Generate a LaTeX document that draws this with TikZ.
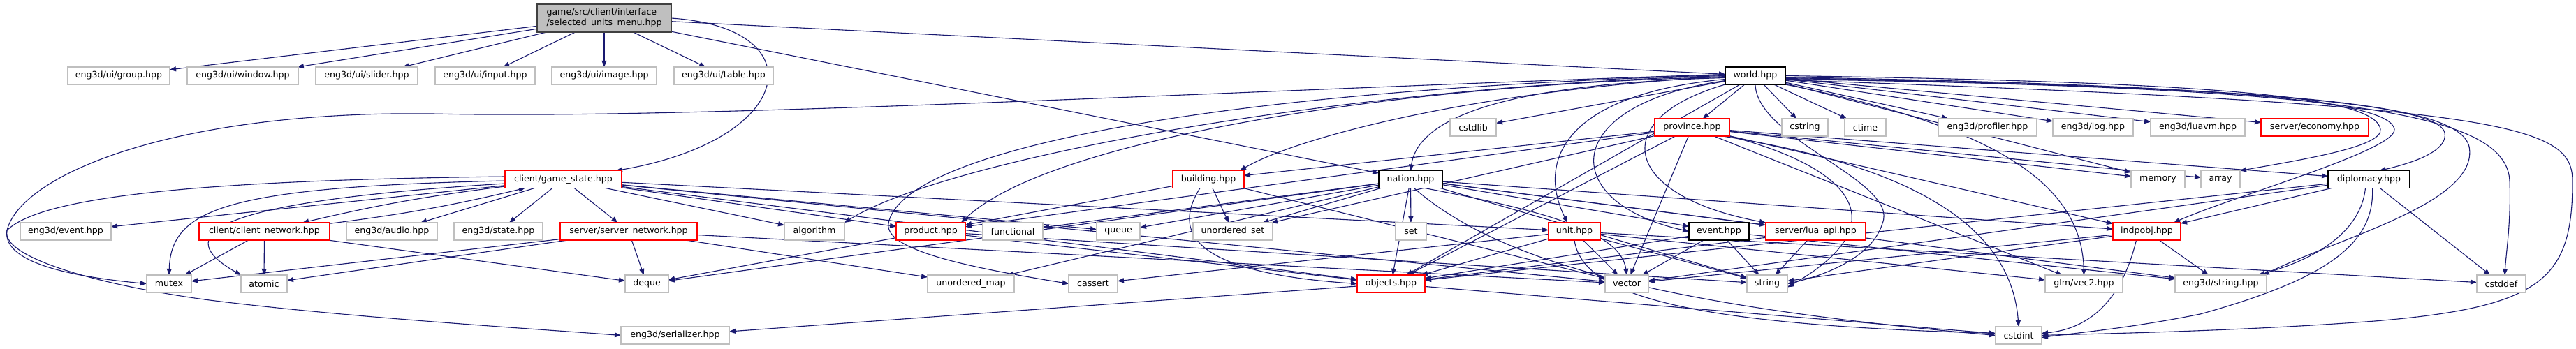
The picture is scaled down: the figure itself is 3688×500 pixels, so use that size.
\documentclass[tikz,border=0pt]{standalone}
\usepackage{fontspec}
\setmainfont{DejaVu Sans}
\usetikzlibrary{arrows.meta}
\pgfdeclarelayer{back}
\pgfdeclarelayer{edges}
\pgfsetlayers{back,edges,main}
\definecolor{edgec}{HTML}{191970}
\definecolor{grayc}{HTML}{BFBFBF}
\definecolor{rootfill}{HTML}{BFBFBF}
\definecolor{rootdraw}{HTML}{404040}
\newcommand\nodefont{\fontsize{12.6}{15}\selectfont}
\tikzset{
  e/.style={draw=edgec, line width=1.1pt, -{Triangle[length=9pt,width=7pt]}},
  nb/.style={inner sep=0pt, outer sep=0pt, minimum height=25pt, font=\nodefont, fill=white, line width=1.3pt},
  gb/.style={nb, draw=grayc},
  rb/.style={nb, draw=red},
  bb/.style={nb, draw=black},
}
\begin{document}
\begin{tikzpicture}[x=1pt,y=-1pt]
\begin{pgfonlayer}{back}
\fill[white] (0,0) rectangle (3688,500);
\end{pgfonlayer}
\useasboundingbox (0,0) rectangle (3688,500);
% root
\node[nb, draw=rootdraw, fill=rootfill, minimum width=192pt, minimum height=40pt, align=left] (r) at (865,26) {game/src/client/interface\\/selected\_units\_menu.hpp};
% row 1
\node[gb, minimum width=146pt] (grp) at (170,108.5) {eng3d/ui/group.hpp};
\node[gb, minimum width=159pt] (win) at (347.5,108.5) {eng3d/ui/window.hpp};
\node[gb, minimum width=146pt] (sld) at (525,108.5) {eng3d/ui/slider.hpp};
\node[gb, minimum width=143pt] (inp) at (694.5,108.5) {eng3d/ui/input.hpp};
\node[gb, minimum width=150pt] (img) at (865,108.5) {eng3d/ui/image.hpp};
\node[gb, minimum width=142pt] (tbl) at (1036,108.5) {eng3d/ui/table.hpp};
\node[bb, minimum width=86pt] (world) at (2513,108.5) {world.hpp};
% row 2
\node[gb, minimum width=66pt] (cstdlib) at (2109,182.5) {cstdlib};
\node[rb, minimum width=107pt] (province) at (2422.5,182.5) {province.hpp};
\node[gb, minimum width=66pt] (cstring) at (2584,182.5) {cstring};
\node[gb, minimum width=59pt] (ctime) at (2670.5,182.5) {ctime};
\node[gb, minimum width=141pt] (profiler) at (2845.5,182.5) {eng3d/profiler.hpp};
\node[gb, minimum width=115pt] (log) at (2996.5,182.5) {eng3d/log.hpp};
\node[gb, minimum width=135pt] (luavm) at (3146.5,182.5) {eng3d/luavm.hpp};
\node[rb, minimum width=154pt] (economy) at (3314,182.5) {server/economy.hpp};
% row 3
\node[rb, minimum width=167pt] (gstate) at (806.5,257) {client/game\_state.hpp};
\node[rb, minimum width=102pt] (building) at (1730,257) {building.hpp};
\node[bb, minimum width=91pt] (nation) at (2019.5,257) {nation.hpp};
\node[gb, minimum width=77pt] (memory) at (3089.5,257) {memory};
\node[gb, minimum width=56pt] (array) at (3179,257) {array};
\node[bb, minimum width=117pt] (diplomacy) at (3391.5,257) {diplomacy.hpp};
% row 4
\node[gb, minimum width=130pt] (ev3d) at (94,331.5) {eng3d/event.hpp};
\node[rb, minimum width=187pt] (cnet) at (378.5,331.5) {client/client\_network.hpp};
\node[gb, minimum width=130pt] (audio) at (561,331.5) {eng3d/audio.hpp};
\node[gb, minimum width=127pt] (state) at (713.5,331.5) {eng3d/state.hpp};
\node[rb, minimum width=196pt] (snet) at (900,331.5) {server/server\_network.hpp};
\node[gb, minimum width=86pt] (algorithm) at (1166,331.5) {algorithm};
\node[rb, minimum width=99pt] (product) at (1332.5,331.5) {product.hpp};
\node[gb, minimum width=86pt] (functional) at (1450,331.5) {functional};
\node[gb, minimum width=62pt] (queue) at (1601,331.5) {queue};
\node[gb, minimum width=114pt] (uset) at (1765,331.5) {unordered\_set};
\node[gb, minimum width=44pt] (set) at (2020,331.5) {set};
\node[rb, minimum width=74pt] (unit) at (2254,331.5) {unit.hpp};
\node[bb, minimum width=86pt] (event) at (2461,331.5) {event.hpp};
\node[rb, minimum width=143pt] (luaapi) at (2599.5,331.5) {server/lua\_api.hpp};
\node[rb, minimum width=97pt] (indpobj) at (3073.5,331.5) {indpobj.hpp};
% row 5
\node[gb, minimum width=64pt] (mutex) at (242,406.5) {mutex};
\node[gb, minimum width=66pt] (atomic) at (378,406.5) {atomic};
\node[gb, minimum width=62pt] (deque) at (926,406.5) {deque};
\node[gb, minimum width=124pt] (umap) at (1390,406.5) {unordered\_map};
\node[gb, minimum width=70pt] (cassert) at (1565,406.5) {cassert};
\node[rb, minimum width=97pt] (objects) at (1991.5,406.5) {objects.hpp};
\node[gb, minimum width=62pt] (vector) at (2329,406.5) {vector};
\node[gb, minimum width=58pt] (string) at (2530,406.5) {string};
\node[gb, minimum width=111pt] (vec2) at (2983.5,406.5) {glm/vec2.hpp};
\node[gb, minimum width=131pt] (estring) at (3179.5,406.5) {eng3d/string.hpp};
\node[gb, minimum width=70pt] (cstddef) at (3581,406.5) {cstddef};
% row 6
\node[gb, minimum width=155pt] (serializer) at (966.5,480.5) {eng3d/serializer.hpp};
\node[gb, minimum width=66pt] (cstdint) at (2890,480.5) {cstdint};

\begin{pgfonlayer}{edges}
% ---- edges: root
\foreach \t in {grp,win,sld,inp,img,tbl,world,nation} \draw[e] (r) -- (\t);
\draw[e] (r.east) .. controls (1170,40) and (1140,200) .. ([xshift=-8pt]gstate.north east);
% ---- game_state
\foreach \t in {ev3d,audio,state,snet,algorithm,unit,queue,product,objects,vector} \draw[e] (gstate) -- (\t);
\draw[e] (gstate) to[bend right=3] (cnet);
\draw[e] (cnet) to[bend right=3] (gstate);
\draw[e] ([yshift=-2pt]gstate.west) .. controls (320,268) and (245,300) .. (mutex.north);
\draw[e] ([yshift=-6pt]gstate.west) .. controls (280,290) and (250,340) .. (atomic.north west);
\draw[e] ([yshift=4pt]gstate.west) .. controls (300,258) and (60,280) .. (10,330) .. controls (0,370) and (150,410) .. (300,430) .. controls (500,455) and (750,470) .. (serializer.west);
% ---- client_network / server_network
\foreach \t in {mutex,atomic,deque} \draw[e] (cnet) -- (\t);
\foreach \t in {mutex,atomic,deque,umap,vector} \draw[e] (snet) -- (\t);
% ---- world
\foreach \t in {cstdlib,province,cstring,ctime,profiler,log,luavm,economy,memory,objects} \draw[e] (world) -- (\t);
\draw[e] ([yshift=-1pt]world.west) .. controls (2100,130) and (1850,200) .. ([xshift=-6pt]building.north east);
\draw[e] ([yshift=-2pt]world.west) .. controls (2000,120) and (1500,200) .. ([xshift=-6pt]product.north east);
\draw[e] ([yshift=2pt]world.west) .. controls (1800,128) and (1000,172) .. (620,163) .. controls (250,158) and (30,250) .. (10,330) .. controls (2,380) and (120,398) .. (mutex.west);
\draw[e] (world.west) .. controls (1900,125) and (1350,230) .. (algorithm.north east);
\draw[e] ([yshift=1pt]world.west) .. controls (1700,130) and (1290,220) .. (1272,320) .. controls (1265,360) and (1400,385) .. (cassert.west);
\draw[e] ([yshift=-3pt]world.west) .. controls (2150,120) and (2030,170) .. (nation.north);
\draw[e] ([yshift=-5pt]world.west) .. controls (2240,135) and (2200,230) .. ([xshift=-10pt]unit.north);
\draw[e] ([yshift=-7pt]world.west) .. controls (2230,150) and (2230,290) .. (event.west);
\draw[e] (world.south west) .. controls (2300,170) and (2320,280) .. (luaapi.north west);
\draw[e] (world.south) .. controls (2515,200) and (2720,260) .. (2695,320) .. controls (2680,370) and (2610,395) .. (string.east);
\draw[e] (world.east) .. controls (3200,118) and (3400,140) .. (3408,185) .. controls (3412,210) and (3300,228) .. (array.north east);
\draw[e] ([yshift=-2pt]world.east) .. controls (3200,122) and (3420,145) .. (3428,185) .. controls (3432,215) and (3200,280) .. ([xshift=-10pt]indpobj.north east);
\draw[e] ([yshift=-3pt]world.east) .. controls (3250,125) and (3490,150) .. (3500,190) .. controls (3505,215) and (3460,232) .. ([xshift=15pt]diplomacy.north);
\draw[e] ([yshift=-4pt]world.east) .. controls (3300,125) and (3520,150) .. (3535,210) .. controls (3550,290) and (3350,340) .. ([xshift=-5pt]estring.north east);
\draw[e] ([yshift=-5pt]world.east) .. controls (3350,125) and (3590,160) .. (3593,260) .. controls (3595,320) and (3588,360) .. ([xshift=5pt]cstddef.north);
\draw[e] ([yshift=-6pt]world.east) .. controls (3600,150) and (3683,180) .. (3683,260) .. controls (3683,400) and (3640,440) .. (3400,460) .. controls (3200,475) and (3000,478) .. (cstdint.east);
\draw[e] (world.south east) .. controls (2850,180) and (2980,260) .. (vec2.north);
% ---- province
\foreach \t in {building,product,uset,objects,memory,array,diplomacy,indpobj,vector,vec2} \draw[e] (province) -- (\t);
\draw[e] (province.south east) .. controls (2650,240) and (2720,320) .. ([yshift=-5pt]string.east);
\draw[e] ([xshift=-10pt]province.south east) .. controls (2750,240) and (2880,330) .. (cstdint.north);
% ---- building
\foreach \t in {product,uset,vector} \draw[e] (building) -- (\t);
\draw[e] ([xshift=-12pt]building.south) .. controls (1680,330) and (1700,390) .. (objects.west);
% ---- product
\foreach \t in {deque,objects,string} \draw[e] (product) -- (\t);
% ---- nation
\foreach \t in {functional,queue,uset,set,deque,umap,objects,event,indpobj,luaapi,string,estring} \draw[e] (nation) -- (\t);
\draw[e] ([xshift=20pt]nation.south) .. controls (2200,300) and (2320,330) .. (vector.north);
\draw[e] ([xshift=5pt]nation.south) .. controls (2150,380) and (2400,440) .. (cstdint.west);
% ---- unit
\foreach \t in {objects,vector,string,vec2,cassert,cstddef} \draw[e] (unit) -- (\t);
\draw[e] (unit.south) .. controls (2265,420) and (2400,465) .. ([yshift=3pt]cstdint.west);
% ---- event, lua_api
\foreach \t in {objects,vector,string,estring} \draw[e] (event) -- (\t);
\foreach \t in {objects,string} \draw[e] (luaapi) -- (\t);
% ---- indpobj
\foreach \t in {vector,string,estring} \draw[e] (indpobj) -- (\t);
\draw[e] ([xshift=-15pt]indpobj.south) .. controls (3040,420) and (3000,470) .. ([yshift=3pt]cstdint.east);
% ---- diplomacy
\foreach \t in {indpobj,objects,vector,cstddef} \draw[e] (diplomacy) -- (\t);
\draw[e] ([xshift=-5pt]diplomacy.south) .. controls (3380,330) and (3320,370) .. ([xshift=-12pt]estring.north east);
\draw[e] ([xshift=5pt]diplomacy.south) .. controls (3400,350) and (3330,400) .. (3150,450) .. controls (3050,470) and (2980,476) .. ([yshift=-3pt]cstdint.east);
% ---- objects
\foreach \t in {serializer,cstdint} \draw[e] (objects) -- (\t);
\end{pgfonlayer}
\end{tikzpicture}
\end{document}
